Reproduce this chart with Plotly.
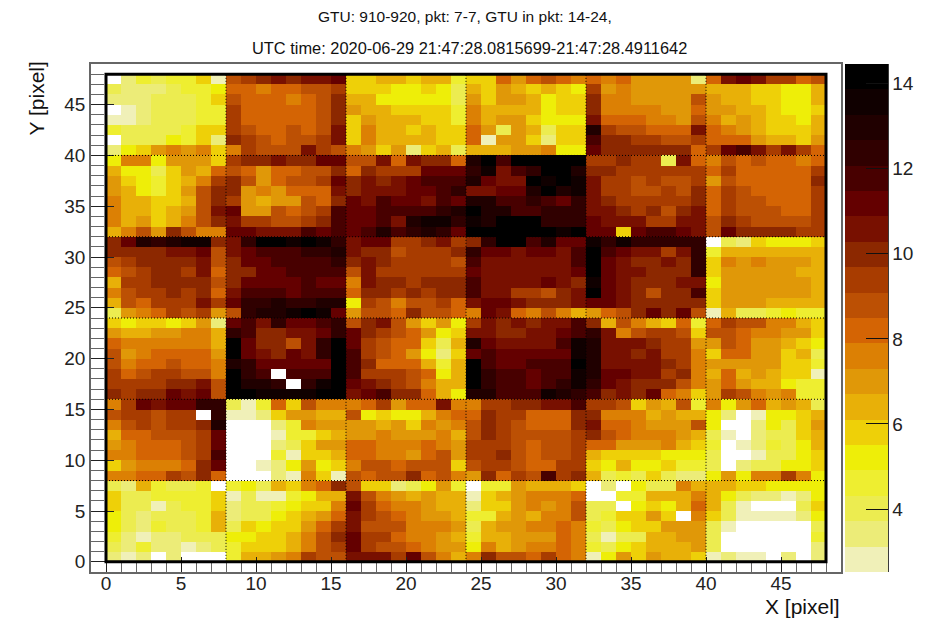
import plotly.graph_objects as go

# colour bands, lightest to darkest, with the value at the centre of each band
band_codes = list("ABCDEFGHIJKLMNOPQRST")
band_colors = ["#f0f0b8", "#ecec78", "#ecec50", "#eeee30", "#eeee08", "#eed008", "#e8b008", "#e09808",
               "#dc8004", "#d46404", "#bc5004", "#a83c00", "#8c2800", "#781000", "#640000", "#480000",
               "#300000", "#200000", "#100000", "#000000"]
band_values = [2.8, 3.4, 4.0, 4.6, 5.2, 5.8, 6.4, 7.0, 7.6, 8.2, 8.8, 9.4, 10.0, 10.6, 11.2, 11.8,
               12.4, 13.0, 13.6, 14.2]
z_min = 2.52
z_max = 14.46

# pixel map: first entry is Y=47, last is Y=0; "." is below the colour range
rows = [
    ".BDCDDFA KLMNMNNO FFGGFGGD FFJHJKJI JIJHHHHB JNONLLJK",
    "CBBBCDDE JJIJJKKL FFFEEFEC GFHGFGFE LHIHHHHH GGGFFEEG",
    "BBBCCCDF KJJJIJKM GGEEEEEC HFHHGEFF MIIHHHHK HGGFFEEG",
    ".ABCCCDD LJJJJJKM HGGFFFFD IGGGGEFF MIIIIHHJ HHGGFEEF",
    "AABCCCDD LJJJJJKM FHGGGFFD IGHHFEEE NJJJIIHK IGHGFFEG",
    "DCCCCDFF LKJJKJKN FIGGFGFF JHCHGCFF RLKKJJJN JIHGFFFG",
    ".CCCEDFB MLKJKKLN FIGGGGFF JAHHFBFF PMMLLKKL JJJHGGFH",
    "BEFHIHIF ILKKKNLK IHFHBFGC GGGHHIEE OMMMMMMJ LOPNLNLJ",
    "EIIEHHHF LMMNMMOO KKNJNMMJ RTPTTTTT LLMLLCNJ IKJKJJIJ",
    "GEECFHGJ KJHJJKKM JMLLLOOO QSNPQTTR MMLLLLLL JLJJJJJL",
    "HFEDFGIL MKHJKKLO MNMNOPPP RONNTSTS NLLKLKKL HKJJJJJM",
    "HGEDFHKM MHIHJJJN MNNNOOPQ NNOORTRS NLLKKLKM JLKJJJJL",
    "IGGFFGKM LHGHHKJM ONPOONPO RRPPQPOQ NMLLLLLM JLKKJJJL",
    "IGGFGHKN OHHKJKLP OOPPPPQR TRRPPQQQ NNMLMKMN JLKKKJJL",
    "IGHFGIKM NLLKKLMP OOPNRSSQ SRTTTQQQ ONNNLLNN KMLKKKKL",
    "GIKHMKII OONNNPOP OPRPQRQO TTTTTTST OOFOPPON KOMMMMLL",
    "MORQRSSM NQTTSTSQ NOOLLMNL MQTTPROO SQSQQQQQ .CBFEEEF",
    "MMMMNNOK NOPPPQQR NMMKLLLM QOONOONP TPONNLNQ DGGGGGGG",
    "KLMMMMNK MOOPPPPQ MNMLLLLK PNNNNNNP TONMMNMQ FIHIHHHG",
    "JKLMMLNJ MMOOPPPP KNLLLLLL ONNNNNNO TONNMMMQ FHHHHHGG",
    "GLLMMMMK MOOOOPOO INMMLMMM PNNNNONM SONMMMNN EHHHHHHG",
    "IKLLMLMJ NPPPOPPP JMMLMLMM PNNLLKMN TONMKMMP FHHHHHHG",
    "GKJLLLNL OQQRQQRR ELKIKKLJ NOONMMMN OONMMMMM FHHHGGGG",
    "CHIJLKLH KQRRSTSO HKKJMKKJ IONJIKIG HJKMOMOK AGCCDEDD",
    "FEFFEFHB OPNQOOPQ KMNKHFHE LNMNMNNP MGKIGFJD JLKKIIGF",
    "HGGHHIIG QPMMNNOQ OMLKJHEF NNMMNNOP QNIKLLKF KKJIIHHF",
    "JIIIIIIG TOMMKNQT OLKJJFCG RONNNNPS RNNNMLLH HKJHHGFE",
    "KHIJJJJH TONMONQT PLKJHEBF OPOOOOOS RNNMNLLI FJJHHFGC",
    "KIJJKJJI RQOOOOOT PMJJJGDG TPOOPPPT RNNNNMLI HHHHHFFD",
    "LJKLLKKI TQP.PPPT PLLLKJEG TQPPOPPS ROONNLMI GJGHGFFA",
    "LLLLMMNK TRRQ.QST ONMLKIGG TQPPOPQS QONMMMKI HJHGGEDD",
    "MLMMONOK TTSSSSTT NOPMMJGE RRPPPSRQ PMNMOJIF HLKIHIDD",
    "ILONOOQQ CADJFKII IJLHJJNI ILLMMNNP LLKFHGKD IEHJGHGC",
    "KLLKLL.Q AABFHHGG KEFEEGIJ JMLLJJJM MIIIGHGG EB.AEEFG",
    "IKLKLLMR ...BDIHH HHGHFIHI KMLKJJJM NJJIHHHK E..BECFH",
    "GJJKKKLO ...ADDFG HHIHHHIG KMLKKKKL MKJIIIHG CA.BCCFG",
    "HIJJJKLO ...BCFHH JJIIIJIH LLLKJKKL JJHHHIGF D.ABDCEG",
    "IIJJJKLP ...DAFFG JJIIHJKH LLMKJKKL GFFFFEEE C..ACCEF",
    "FHIIIJMO ..ABEHEF IKKJKKKF KLLKJJLL FEGEEFDD C.BCCEEF",
    "IIJJLKMJ ...BAIFA KJKKMJKI HMJLKPLM GCDCFCBB EHEIILIE",
    "CBGDCCD. DECGFIJM KFFBCEHD .DDHGGGF .B.ECCIG GGFFEEEE",
    "FCCDDDDF ACAADEGG NKIHGHGG AFGHIIIJ ..DDGGGI GECBBABE",
    "FCCACDDF BCCDEFFI OLJIIHGG BFFHIHIK CC.EFEGJ GCA...CF",
    "ECBCCCDG BCCEFGHJ NLKJIHHG DDGHGIIK CDFFHF.I FCAAAABE",
    "ECBDCCDG CFEFFHJL NKKKIIIH CGHHIIJI DCEFFHHH CA.....C",
    "DBABBCCC EEFFGIKM OLLJIIHG DGGHHHJI CACCGGHH C......D",
    "CBDBBABC DFFFGIKL OLKKJIHH EIGHIIJI DCEFGGGH C......B",
    "BAB.B... DGGHILKK NNNLOKIG IMKKJLJI AEHFHGGF ABAA.B.B",
]

x_edges = list(range(49))
y_edges = list(range(49))
pmt_edges = [8, 16, 24, 32, 40]
axis_range = [-1, 49]
title_lines = ["GTU: 910-920, pkt: 7-7, GTU in pkt: 14-24,",
               "UTC time: 2020-06-29 21:47:28.0815699-21:47:28.4911642"]
x_title = "X [pixel]"
y_title = "Y [pixel]"

lookup = dict(zip(band_codes, band_values))
z = [[lookup.get(c) for c in row.replace(" ", "")] for row in reversed(rows)]

n = len(band_colors)
colorscale = []
for i, color in enumerate(band_colors):
    colorscale.append([i / n, color])
    colorscale.append([(i + 1) / n, color])

FONT = "Liberation Sans, Arial, sans-serif"
W, H = 948, 620
L, R, T, B = 91, 841.5, 63.5, 572


def px(x):
    return (x - L) / (R - L)


def py(y):
    return (B - y) / (B - T)


fig = go.Figure(go.Heatmap(
    x=x_edges, y=y_edges, z=z, zmin=z_min, zmax=z_max, colorscale=colorscale, hoverongaps=False,
    colorbar=dict(
        x=px(846), xanchor="left", y=0, yanchor="bottom",
        lenmode="fraction", len=1, thickness=43, thicknessmode="pixels", xpad=0, ypad=0,
        outlinewidth=0, borderwidth=0, tickmode="linear", tick0=0, dtick=2,
        ticks="inside", ticklen=22, tickwidth=1, tickcolor="#111111",
        tickfont=dict(family=FONT, size=19, color="#222222"),
    ),
))

shapes = [dict(type="rect", x0=0, x1=48, y0=0, y1=48, line=dict(color="black", width=3), layer="above")]
for e in pmt_edges:
    shapes.append(dict(type="line", x0=e, x1=e, y0=0, y1=48, line=dict(color="black", width=1, dash="1px,2px"), layer="above"))
    shapes.append(dict(type="line", x0=0, x1=48, y0=e, y1=e, line=dict(color="black", width=1, dash="1px,2px"), layer="above"))
# right edge of the colour bar
shapes.append(dict(type="line", xref="paper", yref="paper", x0=px(889), x1=px(889),
                   y0=0, y1=1, line=dict(color="#333333", width=1), layer="above"))

annotations = [
    dict(text=title_lines[0], xref="paper", yref="paper", x=px(465), y=py(16),
         xanchor="center", yanchor="middle", showarrow=False, font=dict(family=FONT, size=15.5, color="#111111")),
    dict(text=title_lines[1], xref="paper", yref="paper", x=px(470), y=py(47),
         xanchor="center", yanchor="middle", showarrow=False, font=dict(family=FONT, size=16.4, color="#111111")),
    dict(text=x_title, xref="paper", yref="paper", x=px(843), y=py(607), xanchor="right", yanchor="middle",
         showarrow=False, font=dict(family=FONT, size=21, color="#111111")),
    dict(text=y_title, xref="paper", yref="paper", x=px(36), y=py(98), xanchor="center", yanchor="middle",
         textangle=-90, showarrow=False, font=dict(family=FONT, size=21, color="#111111")),
]

axis_common = dict(
    range=axis_range, tickmode="linear", tick0=0, dtick=5, ticks="inside", tickwidth=1, tickcolor="#222222",
    showgrid=False, zeroline=False, showline=True, linecolor="#666666", linewidth=1.5, mirror=True,
    tickfont=dict(family=FONT, size=19, color="#222222"),
)

fig.update_layout(
    width=W, height=H, autosize=False, margin=dict(l=L, r=W - R, t=T, b=H - B, pad=0, autoexpand=False),
    paper_bgcolor="white", plot_bgcolor="white", shapes=shapes, annotations=annotations,
    xaxis=dict(axis_common, ticklen=15, ticklabelstandoff=-7, minor=dict(dtick=1, tick0=0, ticks="inside", ticklen=9, tickwidth=1, tickcolor="#666666", showgrid=False)),
    yaxis=dict(axis_common, ticklen=23, minor=dict(dtick=1, tick0=0, ticks="inside", ticklen=13, tickwidth=1, tickcolor="#666666", showgrid=False)),
)

fig.write_html("out.html", config=dict(displayModeBar=False),
               post_script="document.body.style.margin='0';document.body.style.overflow='hidden';")
